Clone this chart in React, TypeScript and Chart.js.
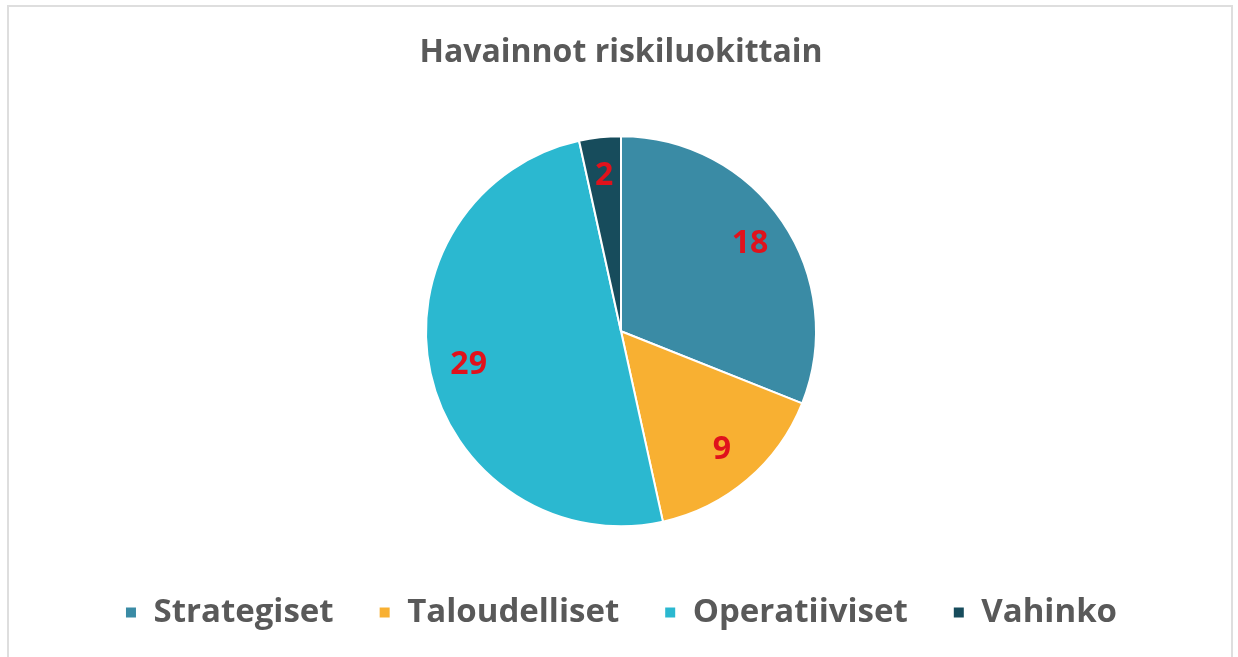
import React, { useEffect, useRef } from "react";
import { Chart, registerables } from "chart.js";

Chart.register(...registerables);

const chartTitle = "Havainnot riskiluokittain";
const categories = ["Strategiset", "Taloudelliset", "Operatiiviset", "Vahinko"];
const values = [18, 9, 29, 2];
const sliceColors = ["#3A8BA5", "#F8B032", "#2BB8D0", "#174C5C"];

const FONT = "'Open Sans', 'DejaVu Sans', sans-serif";

const sliceLabels = {
  id: "sliceLabels",
  afterDatasetsDraw(chart: any) {
    const ctx = chart.ctx;
    const meta = chart.getDatasetMeta(0);
    const data = chart.data.datasets[0].data as number[];
    ctx.save();
    ctx.font = `bold 32px ${FONT}`;
    ctx.fillStyle = "#E0121C";
    ctx.textAlign = "center";
    ctx.textBaseline = "middle";
    meta.data.forEach((arc: any, i: number) => {
      const p = arc.getProps(["x", "y", "startAngle", "endAngle", "outerRadius"], true);
      const mid = (p.startAngle + p.endAngle) / 2;
      const r = p.outerRadius * 0.8;
      ctx.fillText(String(data[i]), p.x + Math.cos(mid) * r, p.y + Math.sin(mid) * r);
    });
    ctx.restore();
  },
};

export default function App() {
  const ref = useRef<HTMLCanvasElement | null>(null);

  useEffect(() => {
    if (!ref.current) return;
    const chart = new Chart(ref.current, {
      type: "pie",
      data: {
        labels: categories,
        datasets: [
          {
            data: values,
            backgroundColor: sliceColors,
            borderColor: "#ffffff",
            borderWidth: 2,
            radius: 195,
          },
        ],
      },
      options: {
        animation: false,
        responsive: false,
        maintainAspectRatio: false,
        layout: { padding: { left: 4, right: 0, top: 0, bottom: 0 } },
        plugins: {
          title: {
            display: true,
            text: chartTitle,
            color: "#595959",
            font: { family: FONT, size: 32, weight: "bold" },
            padding: { top: 34, bottom: 39 },
          },
          legend: {
            display: true,
            position: "bottom",
            labels: {
              color: "#595959",
              font: { family: FONT, size: 33, weight: "bold" },
              boxWidth: 12,
              boxHeight: 12,
              padding: 45,
            },
          },
          tooltip: { enabled: false },
        },
      },
      plugins: [sliceLabels],
    });
    return () => chart.destroy();
  }, []);

  return (
    <div
      style={{
        position: "fixed",
        left: 0,
        top: 0,
        width: 1238,
        height: 657,
        overflow: "hidden",
        background: "#ffffff",
      }}
    >
      <div
        style={{
          position: "absolute",
          left: 7,
          top: 5,
          width: 1226,
          height: 700,
          border: "2px solid #dedede",
          boxSizing: "border-box",
        }}
      />
      <canvas
        ref={ref}
        width={1238}
        height={639}
        style={{ position: "absolute", left: 0, top: 0, width: 1238, height: 639 }}
      />
    </div>
  );
}
